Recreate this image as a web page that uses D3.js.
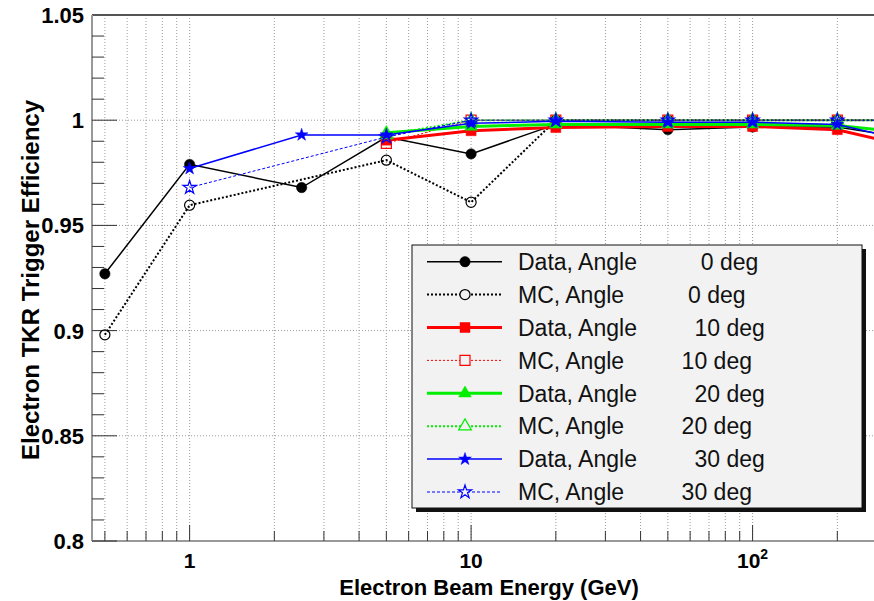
<!DOCTYPE html>
<html>
<head>
<meta charset="utf-8">
<script src="https://cdn.jsdelivr.net/npm/d3@7"></script>
<style>
  html, body { margin: 0; padding: 0; background: #fff; }
  svg { display: block; font-family: "Liberation Sans", Arial, Helvetica, sans-serif; }
</style>
</head>
<body>
<svg id="chart" width="874" height="601"></svg>
<script>
// beam energies (GeV) and efficiencies
const energies = [0.5, 1, 2.5, 5, 10, 20, 50, 100, 200, 300];
const data0  = [0.927, 0.979, 0.968, 0.992, 0.984, 0.998, 0.9955, 0.9968, 0.9968, 0.993];
const mc0    = [0.898, 0.9596, null, 0.981, 0.961, 1.0, 1.0, 1.0, 1.0, 1.0];
const data10 = [null, null, null, 0.9905, 0.995, 0.9965, 0.997, 0.997, 0.9955, 0.990];
const mc10   = [null, null, null, 0.989, 1.0, 1.0, 1.0, 1.0, 1.0, 1.0];
const data20 = [null, null, null, 0.994, 0.997, 0.998, 0.998, 0.998, 0.9975, 0.995];
const mc20   = [null, null, null, 0.993, 1.0, 1.0, 1.0, 1.0, 1.0, 1.0];
const data30 = [null, 0.977, 0.993, 0.993, 0.9985, 0.9995, 0.999, 0.999, 0.998, 0.9925];
const mc30   = [null, 0.968, null, 0.992, 1.0, 1.0, 1.0, 1.0, 1.0, 1.0];

const legendLabels = [
  "Data, Angle          0 deg",
  "MC, Angle          0 deg",
  "Data, Angle         10 deg",
  "MC, Angle         10 deg",
  "Data, Angle         20 deg",
  "MC, Angle         20 deg",
  "Data, Angle         30 deg",
  "MC, Angle         30 deg"
];
const yTicks = [0.8, 0.85, 0.9, 0.95, 1, 1.05];
const xLabels = [1, 10, 100];

const series = [
  {values: data0,  color: "#000000", width: 1.5, dash: null,  sym: d3.symbolCircle,   size: 85, fill: true},
  {values: mc0,    color: "#000000", width: 2,   dash: "2,2", sym: d3.symbolCircle,   size: 80, fill: false},
  {values: data10, color: "#ff0000", width: 3,   dash: null,  sym: d3.symbolSquare,   size: 100, fill: true},
  {values: mc10,   color: "#ff0000", width: 1,   dash: "2,2", sym: d3.symbolSquare,   size: 100, fill: false},
  {values: data20, color: "#00ee00", width: 3,   dash: null,  sym: d3.symbolTriangle, size: 70, fill: true},
  {values: mc20,   color: "#00ee00", width: 2,   dash: "2,2", sym: d3.symbolTriangle, size: 70, fill: false},
  {values: data30, color: "#0000ff", width: 1.5, dash: null,  sym: d3.symbolStar,     size: 50, fill: true},
  {values: mc30,   color: "#0000ff", width: 1,   dash: "3,2", sym: d3.symbolStar,     size: 55, fill: false}
];

const svg = d3.select("#chart");
const pLeft = 92, pTop = 15, pBottom = 541, pRight = 874;

const x = d3.scaleLog().domain([0.45, 270]).range([pLeft, pRight]);
const y = d3.scaleLinear().domain([0.8, 1.05]).range([pBottom, pTop]);

svg.append("defs").append("clipPath").attr("id", "plotclip")
  .append("rect").attr("x", pLeft).attr("y", pTop).attr("width", pRight - pLeft).attr("height", pBottom - pTop);

// grid
const grid = svg.append("g");
x.ticks().forEach(v => {
  grid.append("line")
    .attr("x1", x(v)).attr("x2", x(v)).attr("y1", pTop).attr("y2", pBottom)
    .attr("stroke", "#9a9a9a").attr("stroke-width", 1).attr("stroke-dasharray", "1,2");
});
yTicks.slice(1, -1).forEach(v => {
  grid.append("line")
    .attr("x1", pLeft).attr("x2", pRight).attr("y1", y(v)).attr("y2", y(v))
    .attr("stroke", "#9a9a9a").attr("stroke-width", 1).attr("stroke-dasharray", "1,2");
});

// frame and axes
svg.append("line").attr("x1", pLeft).attr("x2", pRight).attr("y1", pTop).attr("y2", pTop)
  .attr("stroke", "#555").attr("stroke-width", 2);
svg.append("line").attr("x1", pLeft).attr("x2", pLeft).attr("y1", pTop).attr("y2", pBottom)
  .attr("stroke", "#999").attr("stroke-width", 2);
svg.append("line").attr("x1", pLeft).attr("x2", pRight).attr("y1", pBottom).attr("y2", pBottom)
  .attr("stroke", "#999").attr("stroke-width", 2);

// y ticks
d3.range(80, 105, 1).forEach(i => {
  const v = i / 100;
  const major = i % 5 === 0;
  svg.append("line").attr("x1", pLeft).attr("x2", pLeft + (major ? 25 : 12))
    .attr("y1", y(v)).attr("y2", y(v)).attr("stroke", "#333").attr("stroke-width", 1);
});
svg.append("g").selectAll("text").data(yTicks).join("text")
  .attr("x", 84).attr("y", d => y(d)).attr("dy", "0.36em")
  .attr("text-anchor", "end").attr("font-weight", "bold").attr("font-size", 22)
  .text(d => d3.format("")(d));

// x ticks
x.ticks().forEach(v => {
  const major = Math.abs(Math.log10(v) - Math.round(Math.log10(v))) < 1e-9;
  svg.append("line").attr("x1", x(v)).attr("x2", x(v))
    .attr("y1", pBottom).attr("y2", pBottom - (major ? 16 : 10))
    .attr("stroke", "#333").attr("stroke-width", 1);
});
const xl = svg.append("g").selectAll("text").data(xLabels).join("text")
  .attr("x", d => x(d)).attr("y", 568)
  .attr("text-anchor", "middle").attr("font-weight", "bold").attr("font-size", 21);
xl.each(function(d) {
  const t = d3.select(this);
  if (d < 100) { t.text(d); return; }
  t.append("tspan").text("10");
  t.append("tspan").attr("dy", -9).attr("font-size", 14).text("2");
});

// titles
svg.append("text").attr("x", 489).attr("y", 595).attr("text-anchor", "middle")
  .attr("font-weight", "bold").attr("font-size", 22).text("Electron Beam Energy (GeV)");
svg.append("text").attr("transform", "translate(39,280) rotate(-90)").attr("text-anchor", "middle")
  .attr("font-weight", "bold").attr("font-size", 24).text("Electron TKR Trigger Efficiency");

// series
const plot = svg.append("g").attr("clip-path", "url(#plotclip)");
const line = d3.line().defined(d => d[1] != null).x(d => x(d[0])).y(d => y(d[1]));
series.forEach(s => {
  const pts = energies.map((e, i) => [e, s.values[i]]).filter(d => d[1] != null);
  plot.append("path").datum(pts).attr("d", line)
    .attr("fill", "none").attr("stroke", s.color).attr("stroke-width", s.width)
    .attr("stroke-dasharray", s.dash);
  plot.selectAll(null).data(pts).join("path")
    .attr("transform", d => `translate(${x(d[0])},${y(d[1])})`)
    .attr("d", d3.symbol().type(s.sym).size(s.size))
    .attr("fill", s.fill ? s.color : "none")
    .attr("stroke", s.color).attr("stroke-width", s.fill ? 0.5 : 1.2);
});

// legend
const lg = svg.append("g").attr("transform", "translate(412,245)");
const lw = 450, lh = 263;
lg.append("rect").attr("x", 4).attr("y", 4).attr("width", lw).attr("height", lh).attr("fill", "#111");
lg.append("rect").attr("width", lw).attr("height", lh).attr("fill", "#f2f2f2")
  .attr("stroke", "#111").attr("stroke-width", 1);
series.forEach((s, i) => {
  const ly = 16.7 + i * 32.9;
  lg.append("line").attr("x1", 15).attr("x2", 90).attr("y1", ly).attr("y2", ly)
    .attr("stroke", s.color).attr("stroke-width", s.width).attr("stroke-dasharray", s.dash);
  lg.append("path").attr("transform", `translate(53,${ly})`)
    .attr("d", d3.symbol().type(s.sym).size(s.size))
    .attr("fill", s.fill ? s.color : "#f2f2f2")
    .attr("stroke", s.color).attr("stroke-width", s.fill ? 0.5 : 1.2);
  lg.append("text").attr("x", 106).attr("y", ly).attr("dy", "0.36em")
    .attr("font-size", 23).attr("fill", "#111")
    .style("white-space", "pre").attr("xml:space", "preserve")
    .text(legendLabels[i]);
});
</script>
</body>
</html>
